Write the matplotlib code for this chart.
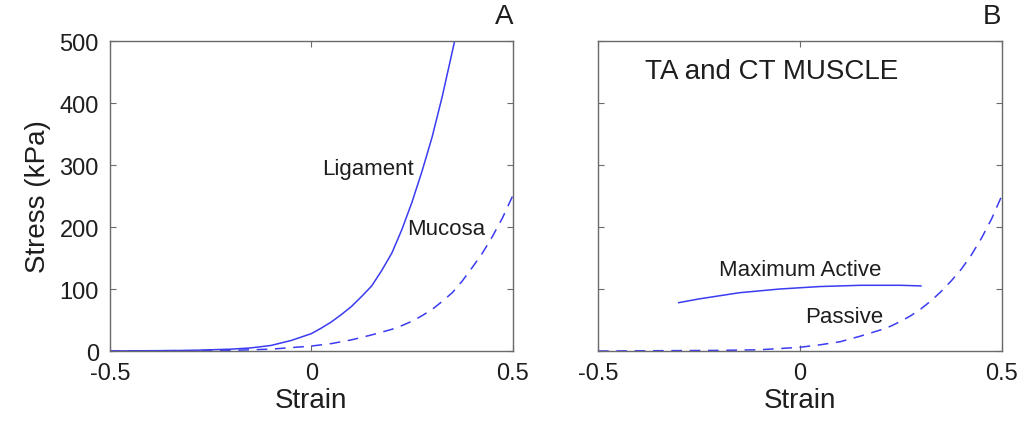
import matplotlib.pyplot as plt

plt.rcParams['font.family'] = ['Liberation Sans', 'DejaVu Sans']

# -----------------------------
# Data
# -----------------------------
lig_strain = [-0.5, -0.3, -0.2, -0.15, -0.1, -0.05, 0.0, 0.025, 0.05, 0.075, 0.1,
              0.125, 0.15, 0.175, 0.2, 0.225, 0.25, 0.275, 0.3, 0.325, 0.356]
lig_stress = [0, 1, 3, 5, 9, 17, 28, 37, 47, 59, 72,
              88, 105, 130, 158, 196, 240, 290, 345, 410, 500]

muc_strain = [-0.5, -0.2, -0.1, 0.0, 0.05, 0.1, 0.15, 0.2, 0.225, 0.25, 0.275,
              0.3, 0.325, 0.35, 0.375, 0.4, 0.425, 0.45, 0.475, 0.5]
muc_stress = [0, 1, 3, 8, 12, 18, 26, 35, 41, 48, 57,
              67, 80, 94, 113, 135, 158, 185, 215, 250]

act_strain = [-0.3, -0.25, -0.2, -0.15, -0.1, -0.05, 0.0, 0.05, 0.1, 0.15, 0.2, 0.25, 0.3]
act_stress = [78, 84, 89, 94, 97, 100, 102, 104, 105, 106, 106, 106, 105]

pas_strain = [-0.5, -0.2, -0.1, 0.0, 0.05, 0.1, 0.15, 0.2, 0.225, 0.25, 0.275,
              0.3, 0.325, 0.35, 0.375, 0.4, 0.425, 0.45, 0.475, 0.5]
pas_stress = [0, 1, 2, 6, 10, 15, 24, 34, 40, 48, 57,
              68, 81, 96, 113, 132, 155, 182, 213, 250]

x_ticks = [-0.5, 0, 0.5]
x_labels = ['-0.5', '0', '0.5']
y_ticks = [0, 100, 200, 300, 400, 500]

line_color = '#3b3bf2'
frame_color = '#6a6a6a'
text_color = '#1e1e1e'

fig = plt.figure(figsize=(10.22, 4.27), dpi=100)
ax_a = fig.add_axes([0.1076, 0.1756, 0.394, 0.726])
ax_b = fig.add_axes([0.5851, 0.1756, 0.395, 0.726])

for ax in (ax_a, ax_b):
    ax.set_xlim(-0.5, 0.5)
    ax.set_ylim(0, 500)
    ax.set_xticks(x_ticks)
    ax.set_xticklabels(x_labels)
    ax.set_yticks(y_ticks)
    ax.tick_params(direction='in', length=4, width=0.8, color=frame_color,
                   top=True, right=True, labelsize=17, labelcolor=text_color,
                   pad=8)
    for s in ax.spines.values():
        s.set_color(frame_color)
        s.set_linewidth(1.0)
    ax.set_xlabel('Strain', fontsize=20, color=text_color, labelpad=2)

# -----------------------------
# Panel A
# -----------------------------
ax_a.plot(lig_strain, lig_stress, color=line_color, lw=1.1)
ax_a.plot(muc_strain, muc_stress, color=line_color, lw=1.1, linestyle=(0, (7, 5)))
ax_a.set_ylabel('Stress (kPa)', fontsize=20, color=text_color, labelpad=6)
ax_a.text(0.14, 295, 'Ligament', fontsize=16, color=text_color, ha='center', va='center')
ax_a.text(0.336, 197, 'Mucosa', fontsize=16, color=text_color, ha='center', va='center')
ax_a.text(0.98, 1.04, 'A', transform=ax_a.transAxes, fontsize=20,
          color=text_color, ha='center', va='bottom')

# -----------------------------
# Panel B
# -----------------------------
ax_b.plot(act_strain, act_stress, color=line_color, lw=1.1)
ax_b.plot(pas_strain, pas_stress, color=line_color, lw=1.1, linestyle=(0, (7, 5)))
ax_b.set_yticklabels([])
ax_b.text(-0.069, 451, 'TA and CT MUSCLE', fontsize=20, color=text_color,
          ha='center', va='center')
ax_b.text(0.0, 132, 'Maximum Active', fontsize=16, color=text_color, ha='center', va='center')
ax_b.text(0.111, 55, 'Passive', fontsize=16, color=text_color, ha='center', va='center')
ax_b.text(0.975, 1.04, 'B', transform=ax_b.transAxes, fontsize=20,
          color=text_color, ha='center', va='bottom')

fig.savefig('out.png', dpi=100)
